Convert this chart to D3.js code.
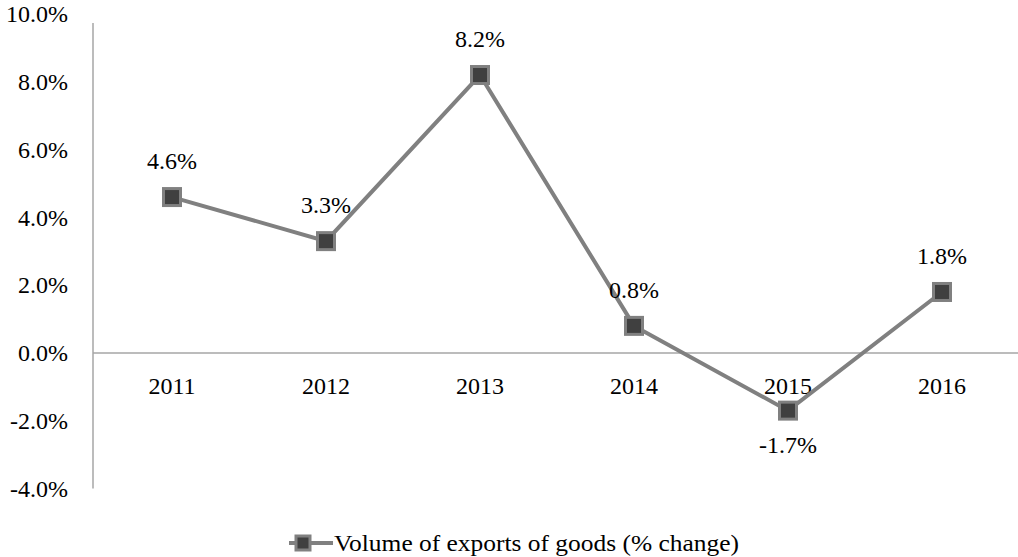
<!DOCTYPE html>
<html><head><meta charset="utf-8">
<script src="https://cdn.jsdelivr.net/npm/d3@7"></script>
<style>body{margin:0;background:#fff}svg{display:block}text{font-family:"Liberation Serif","Times New Roman",serif;font-size:24px;fill:#000}</style>
</head><body><svg id="c" width="1018" height="557"></svg>
<script>
const categories = ["2011","2012","2013","2014","2015","2016"];
const values = [4.6, 3.3, 8.2, 0.8, -1.7, 1.8];
const labels = ["4.6%","3.3%","8.2%","0.8%","-1.7%","1.8%"];
const yTicks = [10, 8, 6, 4, 2, 0, -2, -4];
const seriesName = "Volume of exports of goods (% change)";

const svg = d3.select("#c");
const x = d3.scaleBand().domain(categories).range([95, 1019]);
const y = d3.scaleLinear().domain([-4, 10]).range([488.6, 14]);

// y axis
const yAxis = d3.axisLeft(y).tickValues(yTicks).tickSize(0).tickPadding(25).tickFormat(d => d.toFixed(1) + "%");
const gy = svg.append("g").attr("transform", "translate(93,0)").call(yAxis);
gy.select(".domain").remove();
gy.selectAll("text").style("font-family", '"Liberation Serif",serif').style("font-size", "24px").attr("fill", "#000").attr("dy", "0.32em");
svg.append("line").attr("x1", 93).attr("x2", 93).attr("y1", 23).attr("y2", y(-4)).attr("stroke", "#a6a6a6").attr("stroke-width", 1.5);

// x axis at zero
const xAxis = d3.axisBottom(x).tickSize(0).tickPadding(33);
const gx = svg.append("g").attr("transform", `translate(0,${y(0)})`).call(xAxis);
gx.select(".domain").remove();
gx.selectAll("text").style("font-family", '"Liberation Serif",serif').style("font-size", "24px").attr("fill", "#000").attr("dy", "0.32em");
svg.append("line").attr("x1", 93).attr("x2", 1018).attr("y1", y(0)).attr("y2", y(0)).attr("stroke", "#a6a6a6").attr("stroke-width", 1.5);

const cx = d => x(d) + x.bandwidth() / 2;
const data = categories.map((c, i) => ({c, v: values[i], l: labels[i]}));

svg.append("path").datum(data)
  .attr("d", d3.line().x(d => cx(d.c)).y(d => y(d.v)))
  .attr("fill", "none").attr("stroke", "#808080").attr("stroke-width", 4);

svg.selectAll("rect.m").data(data).join("rect").attr("class", "m")
  .attr("x", d => cx(d.c) - 8.5).attr("y", d => y(d.v) - 8.5)
  .attr("width", 17).attr("height", 17)
  .attr("fill", "#404040").attr("stroke", "#808080").attr("stroke-width", 3);

svg.selectAll("text.lab").data(data).join("text").attr("class", "lab")
  .attr("x", d => cx(d.c))
  .attr("y", d => d.v < 0 ? y(d.v) + 35 : y(d.v) - 36)
  .attr("dy", "0.32em").attr("text-anchor", "middle").text(d => d.l);

// legend
const lg = svg.append("g");
lg.append("line").attr("x1", 289).attr("x2", 333).attr("y1", 543).attr("y2", 543).attr("stroke", "#808080").attr("stroke-width", 4);
lg.append("rect").attr("x", 296).attr("y", 536).attr("width", 14).attr("height", 14).attr("fill", "#404040").attr("stroke", "#808080").attr("stroke-width", 3);
lg.append("text").attr("x", 334).attr("y", 543).attr("dy", "0.32em")
  .attr("textLength", 405).attr("lengthAdjust", "spacingAndGlyphs").text(seriesName);
</script></body></html>
